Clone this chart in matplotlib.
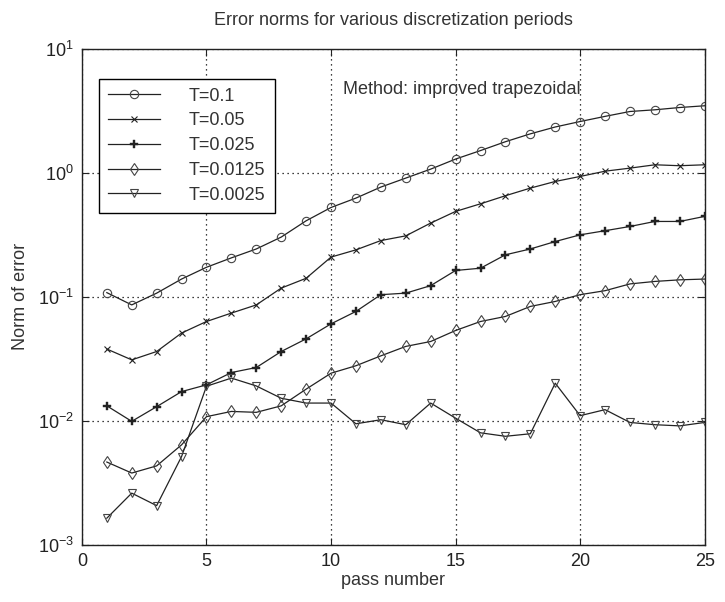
import matplotlib
matplotlib.use("Agg")
import matplotlib.pyplot as plt
from matplotlib.ticker import LogLocator, NullLocator, FixedLocator

plt.rcParams["font.family"] = ["Liberation Sans", "DejaVu Sans"]

# ── Data ──────────────────────────────────────────────────────────────────────
passes = list(range(1, 26))

err_t0100 = [0.108, 0.086, 0.107, 0.139, 0.173, 0.206, 0.243, 0.303, 0.41, 0.525,
             0.625, 0.767, 0.906, 1.07, 1.29, 1.51, 1.78, 2.06, 2.34, 2.59,
             2.85, 3.12, 3.22, 3.36, 3.47]
err_t0050 = [0.0379, 0.031, 0.0362, 0.051, 0.0632, 0.0739, 0.086, 0.1175, 0.141, 0.209,
             0.239, 0.284, 0.310, 0.393, 0.488, 0.562, 0.653, 0.752, 0.851, 0.934,
             1.03, 1.09, 1.16, 1.14, 1.16]
err_t0025 = [0.0132, 0.0099, 0.013, 0.0172, 0.0195, 0.0245, 0.0269, 0.0362, 0.0458, 0.0605,
             0.0762, 0.104, 0.107, 0.123, 0.163, 0.170, 0.218, 0.243, 0.279, 0.316,
             0.341, 0.369, 0.405, 0.405, 0.445]
err_t00125 = [0.00465, 0.00379, 0.00433, 0.0064, 0.0108, 0.0119, 0.0117, 0.0132, 0.018, 0.0242,
              0.0278, 0.0334, 0.0398, 0.0436, 0.0535, 0.0632, 0.0694, 0.0836, 0.0917, 0.104,
              0.112, 0.127, 0.133, 0.137, 0.139]
err_t00025 = [0.00164, 0.00261, 0.00207, 0.00515, 0.019, 0.0221, 0.0191, 0.0152, 0.0139, 0.0139,
              0.00946, 0.0102, 0.0093, 0.0139, 0.0105, 0.0080, 0.0075, 0.00786, 0.0201, 0.011,
              0.0123, 0.0097, 0.0093, 0.0091, 0.0097]

labels = ["T=0.1", "T=0.05", "T=0.025", "T=0.0125", "T=0.0025"]
series = [err_t0100, err_t0050, err_t0025, err_t00125, err_t00025]
markers = ["o", "x", "P", "d", "v"]

x_ticks = [0, 5, 10, 15, 20, 25]

# ── Plot ──────────────────────────────────────────────────────────────────────
fig = plt.figure(figsize=(7.25, 6.02), dpi=100)
ax = fig.add_axes([0.113, 0.095, 0.859, 0.824])

for lab, ys, m in zip(labels, series, markers):
    style = dict(color="#222222", linewidth=0.9, marker=m, markersize=6,
                 markeredgewidth=0.8, label=lab)
    if m == "P":
        style.update(markersize=6, markerfacecolor="#222222", markeredgewidth=0.3)
    elif m == "x":
        style.update(markersize=4)
    else:
        style.update(markerfacecolor="none", markeredgecolor="#444444")
    ax.plot(passes, ys, **style)

ax.set_yscale("log")
ax.set_xlim(0, 25)
ax.set_ylim(1e-3, 1e1)
ax.xaxis.set_major_locator(FixedLocator(x_ticks))
ax.yaxis.set_major_locator(LogLocator(base=10, numticks=10))
ax.yaxis.set_minor_locator(NullLocator())

ax.grid(True, which="major", color="black", linestyle=(0, (1, 3)), linewidth=0.9)
ax.tick_params(direction="in", top=True, right=True, length=5,
               labelsize=13, colors="#222222", pad=6)
for spine in ax.spines.values():
    spine.set_color("#222222")
    spine.set_linewidth(1.0)

ax.set_xlabel("pass number", fontsize=13, color="#333333", labelpad=1)
ax.set_ylabel("Norm of error", fontsize=13, color="#333333", labelpad=6)
ax.set_title("Error norms for various discretization periods",
             fontsize=13, color="#333333", pad=17)

ax.text(10.5, 4.7, "Method: improved trapezoidal", fontsize=13, color="#333333",
        ha="left", va="center")

leg = ax.legend(loc="upper left", bbox_to_anchor=(0.027, 0.94), borderaxespad=0,
                fontsize=13, handlelength=2.9, handletextpad=1.6, labelspacing=0.43,
                borderpad=0.5, fancybox=False, framealpha=1, edgecolor="black")
leg.get_frame().set_linewidth(1.0)
for t in leg.get_texts():
    t.set_color("#333333")

fig.savefig("out.png", dpi=100, facecolor="white")
